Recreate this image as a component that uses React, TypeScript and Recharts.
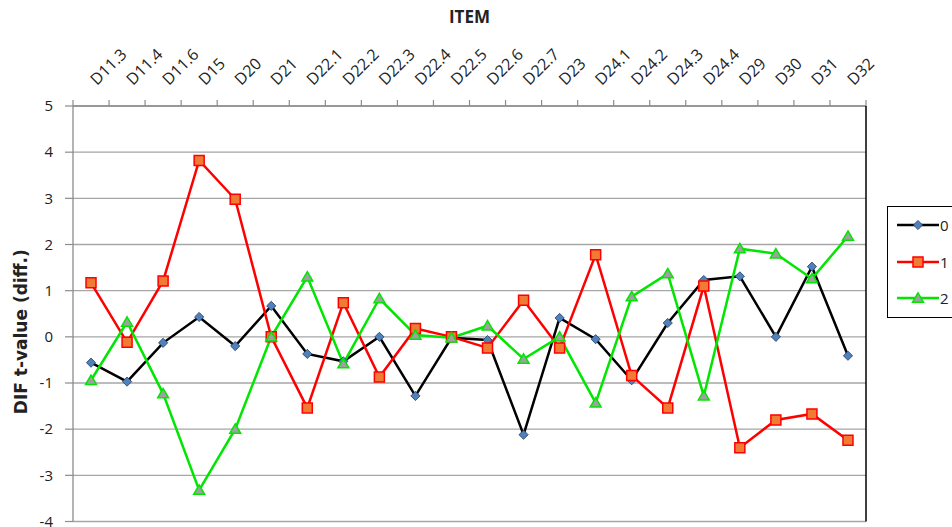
import React from 'react';
import { ComposedChart, Line, XAxis, YAxis, CartesianGrid, Legend, Label } from 'recharts';

const items = ['D11.3', 'D11.4', 'D11.6', 'D15', 'D20', 'D21', 'D22.1', 'D22.2', 'D22.3', 'D22.4', 'D22.5', 'D22.6', 'D22.7', 'D23', 'D24.1', 'D24.2', 'D24.3', 'D24.4', 'D29', 'D30', 'D31', 'D32'];
const group0 = [-0.56, -0.97, -0.13, 0.43, -0.2, 0.67, -0.37, -0.53, 0.0, -1.28, -0.02, -0.07, -2.12, 0.41, -0.05, -0.94, 0.3, 1.23, 1.31, 0.0, 1.52, -0.41];
const group1 = [1.17, -0.12, 1.21, 3.82, 2.98, 0.0, -1.54, 0.74, -0.87, 0.18, 0.0, -0.24, 0.79, -0.24, 1.78, -0.84, -1.54, 1.1, -2.4, -1.8, -1.67, -2.24];
const group2 = [-0.94, 0.32, -1.23, -3.32, -2.0, 0.0, 1.3, -0.58, 0.83, 0.04, -0.02, 0.24, -0.48, 0.0, -1.43, 0.87, 1.37, -1.28, 1.91, 1.8, 1.26, 2.18];
const yTicks = [-4, -3, -2, -1, 0, 1, 2, 3, 4, 5];
const seriesNames = ['0', '1', '2'];
const xTitle = 'ITEM';
const yTitle = 'DIF t-value (diff.)';

const data = items.map((item, i) => ({ item, g0: group0[i], g1: group1[i], g2: group2[i] }));

const FONT = '"Open Sans", sans-serif';

const diamondPath = (cx: number, cy: number, r: number) => `M${cx},${cy - r}L${cx + r},${cy}L${cx},${cy + r}L${cx - r},${cy}Z`;
const squarePath = (cx: number, cy: number, r: number) => `M${cx - r},${cy - r}L${cx + r},${cy - r}L${cx + r},${cy + r}L${cx - r},${cy + r}Z`;
const trianglePath = (cx: number, cy: number, r: number) => `M${cx},${cy - r}L${cx + r * 1.05},${cy + r * 0.8}L${cx - r * 1.05},${cy + r * 0.8}Z`;

const markerStyles = [
  { line: '#000000', fill: '#4f81bd', stroke: '#1f3a60', sw: 0.8, path: (x: number, y: number) => diamondPath(x, y, 4.6) },
  { line: '#ff0000', fill: '#f07b35', stroke: '#ff0000', sw: 1.5, path: (x: number, y: number) => squarePath(x, y, 5) },
  { line: '#00e600', fill: '#a0a0a0', stroke: '#00e600', sw: 1.5, path: (x: number, y: number) => trianglePath(x, y, 5.2) },
];

const makeDot = (s: number) => (p: any) => {
  const { cx, cy, index } = p;
  if (cx == null || cy == null) return <g key={`e${s}-${index}`} />;
  const m = markerStyles[s];
  return <path key={`d${s}-${index}`} d={m.path(cx, cy)} fill={m.fill} stroke={m.stroke} strokeWidth={m.sw} />;
};

// Category label plus the tick marks on the category boundaries (half a band either side)
const XTick = (p: any) => {
  const { x, y, payload, index } = p;
  const half = payload && typeof payload.offset === 'number' ? payload.offset : 0;
  const isLast = index === items.length - 1;
  return (
    <g>
      <line x1={x - half} x2={x - half} y1={y - 6} y2={y} stroke="#8c8c8c" strokeWidth={1.2} />
      {isLast && <line x1={x + half} x2={x + half} y1={y - 6} y2={y} stroke="#8c8c8c" strokeWidth={1.2} />}
      <text
        transform={`translate(${x + 6}, ${y - 20}) rotate(-45)`}
        textAnchor="start"
        fontFamily={FONT}
        fontSize={16}
        fill="#222"
      >
        {payload.value}
      </text>
    </g>
  );
};

const renderLegend = () => (
  <div
    style={{
      border: '1px solid #000',
      width: 80,
      height: 112,
      boxSizing: 'border-box',
      background: '#fff',
      position: 'relative',
    }}
  >
    {seriesNames.map((n, i) => {
      const m = markerStyles[i];
      return (
        <div
          key={n}
          style={{ position: 'absolute', left: 9, top: 18 + i * 36.5 - 10, height: 20, display: 'flex', alignItems: 'center' }}
        >
          <svg width={43} height={20} style={{ display: 'block' }}>
            <line x1={0} y1={10} x2={42} y2={10} stroke={m.line} strokeWidth={2.5} />
            <path d={m.path(21, 10)} fill={m.fill} stroke={m.stroke} strokeWidth={m.sw} />
          </svg>
          <span style={{ fontFamily: FONT, fontSize: 15, color: '#222', lineHeight: '20px' }}>{n}</span>
        </div>
      );
    })}
  </div>
);

export default function App() {
  return (
    <div style={{ position: 'absolute', left: 0, top: 0, width: 952, height: 527, overflow: 'hidden', background: '#fff' }}>
      <ComposedChart width={952} height={527} data={data} margin={{ top: 0, right: 85, bottom: 5.5, left: 0 }}>
        <CartesianGrid vertical={false} stroke="#a6a6a6" strokeWidth={1.3} />
        <XAxis
          dataKey="item"
          orientation="top"
          scale="band"
          interval={0}
          height={106}
          tickSize={0}
          tickMargin={0}
          tickLine={false}
          axisLine={{ stroke: '#8c8c8c', strokeWidth: 1.3 }}
          tick={<XTick />}
        >
          <Label value={xTitle} position="insideTop" offset={11} fontFamily={FONT} fontSize={17} fontWeight="bold" fill="#222" />
        </XAxis>
        <YAxis
          domain={[-4, 5]}
          ticks={yTicks}
          interval={0}
          width={73}
          tickSize={8}
          tickMargin={12}
          tick={{ fontFamily: FONT, fontSize: 15, fill: '#222' }}
          tickLine={{ stroke: '#8c8c8c', strokeWidth: 1.2 }}
          axisLine={{ stroke: '#8c8c8c', strokeWidth: 1.3 }}
        >
          <Label
            value={yTitle}
            angle={-90}
            position="center"
            dx={-16}
            dy={18}
            fontFamily="DejaVu Sans, sans-serif"
            fontSize={17}
            fontWeight="bold"
            fill="#222"
          />
        </YAxis>
        <YAxis
          yAxisId="r"
          orientation="right"
          domain={[-4, 5]}
          ticks={yTicks}
          width={1}
          tick={false}
          tickLine={false}
          axisLine={{ stroke: '#000', strokeWidth: 1.5 }}
        />
        <Line dataKey="g0" name={seriesNames[0]} stroke={markerStyles[0].line} strokeWidth={2.5} dot={makeDot(0)} activeDot={false} isAnimationActive={false} />
        <Line dataKey="g1" name={seriesNames[1]} stroke={markerStyles[1].line} strokeWidth={2.5} dot={makeDot(1)} activeDot={false} isAnimationActive={false} />
        <Line dataKey="g2" name={seriesNames[2]} stroke={markerStyles[2].line} strokeWidth={2.5} dot={makeDot(2)} activeDot={false} isAnimationActive={false} />
        <Legend
          layout="horizontal"
          verticalAlign="middle"
          align="center"
          content={renderLegend}
          wrapperStyle={{ left: 887, top: 206, width: 80, height: 112 }}
        />
      </ComposedChart>
    </div>
  );
}
